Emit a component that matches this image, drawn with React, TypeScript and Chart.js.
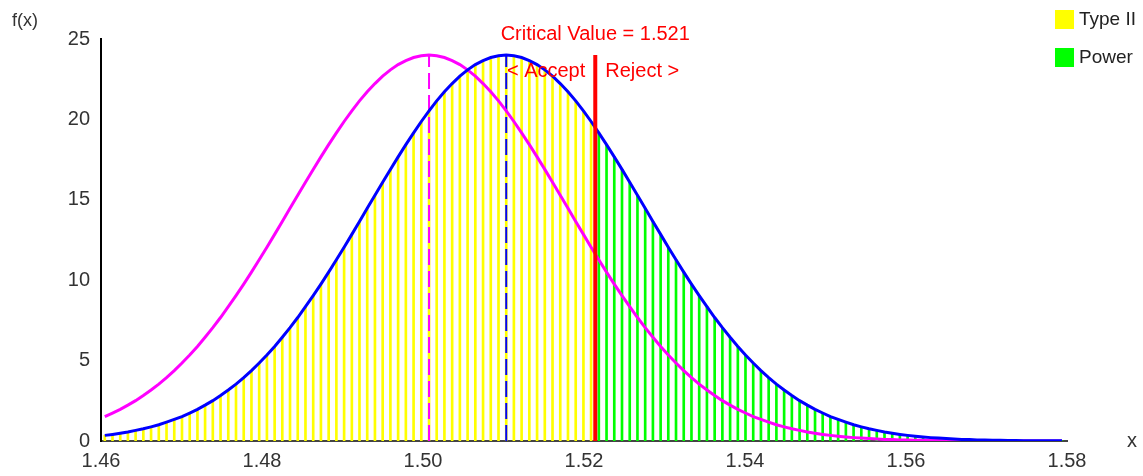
import React, { useEffect, useRef } from "react";
import { Chart, registerables } from "chart.js";

Chart.register(...registerables);

// x positions of the sampled density (one vertical bar per sample)
const xValues = [
  1.46047, 1.46143, 1.46239, 1.46334, 1.4643, 1.46526, 1.46622, 1.46718, 1.46814, 1.4691,
  1.47006, 1.47102, 1.47198, 1.47293, 1.47389, 1.47485, 1.47581, 1.47677, 1.47773, 1.47869,
  1.47965, 1.48061, 1.48157, 1.48252, 1.48348, 1.48444, 1.4854, 1.48636, 1.48732, 1.48828,
  1.48924, 1.4902, 1.49116, 1.49211, 1.49307, 1.49403, 1.49499, 1.49595, 1.49691, 1.49787,
  1.49883, 1.49979,
  1.50075, 1.5017, 1.50266, 1.50362, 1.50458, 1.50554, 1.5065, 1.50746, 1.50842, 1.50938,
  1.51034, 1.51129, 1.51225, 1.51321, 1.51417, 1.51513, 1.51609, 1.51705, 1.51801, 1.51897,
  1.51993, 1.52088, 1.52184, 1.5228, 1.52376, 1.52472, 1.52568, 1.52664, 1.5276, 1.52856,
  1.52952, 1.53047, 1.53143, 1.53239, 1.53335, 1.53431, 1.53527, 1.53623, 1.53719, 1.53815,
  1.53911, 1.54006, 1.54102, 1.54198, 1.54294, 1.5439, 1.54486, 1.54582, 1.54678, 1.54774,
  1.5487, 1.54965, 1.55061, 1.55157, 1.55253, 1.55349, 1.55445, 1.55541, 1.55637, 1.55733,
  1.55829, 1.55924, 1.5602, 1.56116, 1.56212, 1.56308, 1.56404, 1.565, 1.56596, 1.56692,
  1.56788, 1.56883, 1.56979, 1.57075, 1.57171, 1.57267, 1.57363, 1.57459, 1.57555, 1.57651,
  1.57747, 1.57842, 1.57938,
];

// magenta curve (null hypothesis density)
const nullDensity = [
  1.52, 1.74, 1.97, 2.23, 2.51, 2.83, 3.17, 3.54, 3.94, 4.38,
  4.85, 5.35, 5.88, 6.45, 7.05, 7.68, 8.35, 9.04, 9.76, 10.5,
  11.27, 12.05, 12.85, 13.65, 14.47, 15.28, 16.09, 16.89, 17.67, 18.43,
  19.16, 19.87, 20.53, 21.15, 21.72, 22.23, 22.69, 23.08, 23.41, 23.66,
  23.85, 23.96,
  24.0,
  23.96, 23.85, 23.66, 23.41, 23.08, 22.69, 22.23, 21.72, 21.15, 20.53,
  19.87, 19.16, 18.43, 17.67, 16.89, 16.09, 15.28, 14.47, 13.65, 12.85,
  12.05, 11.27, 10.5, 9.76, 9.04, 8.35, 7.68, 7.05, 6.45, 5.88,
  5.35, 4.85, 4.38, 3.94, 3.54, 3.17, 2.83, 2.51, 2.23, 1.97,
  1.74, 1.52, 1.34, 1.17, 1.01, 0.88, 0.76, 0.66, 0.56, 0.48,
  0.41, 0.35, 0.3, 0.25, 0.21, 0.18, 0.15, 0.13, 0.1, 0.09,
  0.07, 0.06, 0.05, 0.04, 0.03, 0.03, 0.02, 0.02, 0.01, 0.01,
  0.01, 0.01, 0.01, 0.01, 0.01, 0, 0, 0, 0, 0, 0, 0,
];

// blue curve (true-mean density), also the bar heights
const altDensity = [
  0.35, 0.41, 0.48, 0.56, 0.66, 0.76, 0.88, 1.01, 1.17, 1.34,
  1.52, 1.74, 1.97, 2.23, 2.51, 2.83, 3.17, 3.54, 3.94, 4.38,
  4.85, 5.35, 5.88, 6.45, 7.05, 7.68, 8.35, 9.04, 9.76, 10.5,
  11.27, 12.05, 12.85, 13.65, 14.47, 15.28, 16.09, 16.89, 17.67, 18.43,
  19.16, 19.87, 20.53, 21.15, 21.72, 22.23, 22.69, 23.08, 23.41, 23.66,
  23.85, 23.96,
  24.0,
  23.96, 23.85, 23.66, 23.41, 23.08, 22.69, 22.23, 21.72, 21.15, 20.53,
  19.87, 19.16, 18.43, 17.67, 16.89, 16.09, 15.28, 14.47, 13.65, 12.85,
  12.05, 11.27, 10.5, 9.76, 9.04, 8.35, 7.68, 7.05, 6.45, 5.88,
  5.35, 4.85, 4.38, 3.94, 3.54, 3.17, 2.83, 2.51, 2.23, 1.97,
  1.74, 1.52, 1.34, 1.17, 1.01, 0.88, 0.76, 0.66, 0.56, 0.48,
  0.41, 0.35, 0.3, 0.25, 0.21, 0.18, 0.15, 0.13, 0.1, 0.09,
  0.07, 0.06, 0.05, 0.04, 0.03, 0.03, 0.02, 0.02, 0.01, 0.01,
  0.01, 0.01,
];

const nullMean = 1.50075;
const altMean = 1.51034;
const peakHeight = 24;
const criticalLine = 1.5214;
const criticalLabel = "Critical Value = 1.521";
const acceptLabel = "< Accept";
const rejectLabel = "Reject >";
const xTickValues = [1.46, 1.48, 1.5, 1.52, 1.54, 1.56, 1.58];
const yTickValues = [0, 5, 10, 15, 20, 25];
const legendLabels = ["Type II", "Power"];
const legendColors = ["#ffff00", "#00ff00"];
const yAxisTitle = "f(x)";
const xAxisTitle = "x";

const FONT = '"Liberation Sans", Arial, sans-serif';

const annotationPlugin = {
  id: "annotations",
  afterDraw(chart: any) {
    const { ctx, scales } = chart;
    const cx = scales.x.getPixelForValue(criticalLine);
    ctx.save();
    ctx.textBaseline = "middle";
    ctx.fillStyle = "#ff0000";
    ctx.font = `20px ${FONT}`;
    ctx.textAlign = "center";
    ctx.fillText(criticalLabel, cx, 34);
    ctx.textAlign = "right";
    ctx.fillText(acceptLabel, cx - 10, 71);
    ctx.textAlign = "left";
    ctx.fillText(rejectLabel, cx + 10, 71);

    // legend
    ctx.font = `19px ${FONT}`;
    legendLabels.forEach((label, i) => {
      const top = 10 + i * 38;
      ctx.fillStyle = legendColors[i];
      ctx.fillRect(1055, top, 19, 19);
      ctx.fillStyle = "#222";
      ctx.textAlign = "left";
      ctx.fillText(label, 1079, top + 10);
    });

    // axis titles
    ctx.fillStyle = "#333";
    ctx.font = `18px ${FONT}`;
    ctx.textAlign = "left";
    ctx.fillText(yAxisTitle, 12, 21);
    ctx.font = `20px ${FONT}`;
    ctx.fillText(xAxisTitle, 1127, 441);
    ctx.restore();
  },
};

export default function App() {
  const canvasRef = useRef<HTMLCanvasElement | null>(null);

  useEffect(() => {
    if (!canvasRef.current) return;
    const barData = xValues.map((x, i) => ({ x, y: altDensity[i] }));
    const barColors = xValues.map((x) => (x < criticalLine ? "#ffff00" : "#00ff00"));
    const chart = new Chart(canvasRef.current, {
      type: "bar",
      data: {
        datasets: [
          {
            type: "line",
            label: "critical",
            data: [
              { x: criticalLine, y: 0 },
              { x: criticalLine, y: peakHeight },
            ],
            borderColor: "#ff0000",
            borderWidth: 4,
            pointRadius: 0,
            order: 0,
          },
          {
            type: "line",
            label: "alt",
            data: xValues.map((x, i) => ({ x, y: altDensity[i] })),
            borderColor: "#0000ff",
            borderWidth: 3,
            pointRadius: 0,
            tension: 0,
            order: 1,
          },
          {
            type: "line",
            label: "null",
            data: xValues.map((x, i) => ({ x, y: nullDensity[i] })),
            borderColor: "#ff00ff",
            borderWidth: 3,
            pointRadius: 0,
            tension: 0,
            order: 2,
          },
          {
            type: "line",
            label: "altMean",
            data: [
              { x: altMean, y: 0 },
              { x: altMean, y: peakHeight },
            ],
            borderColor: "#0000ff",
            borderWidth: 2,
            borderDash: [16, 6],
            pointRadius: 0,
            order: 3,
          },
          {
            type: "line",
            label: "nullMean",
            data: [
              { x: nullMean, y: 0 },
              { x: nullMean, y: peakHeight },
            ],
            borderColor: "#ff00ff",
            borderWidth: 2,
            borderDash: [16, 6],
            pointRadius: 0,
            order: 4,
          },
          {
            type: "bar",
            label: "bars",
            data: barData,
            backgroundColor: barColors,
            borderWidth: 0,
            barThickness: 2,
            order: 5,
          },
        ],
      } as any,
      options: {
        animation: false,
        responsive: false,
        devicePixelRatio: 1,
        layout: { padding: { top: 39, right: 76, left: 0, bottom: 0 } },
        plugins: {
          legend: { display: false },
          tooltip: { enabled: false },
        },
        scales: {
          x: {
            type: "linear",
            min: 1.46,
            max: 1.58,
            offset: false,
            grid: { display: false, drawTicks: false },
            border: { display: true, color: "#444", width: 2, dash: [5, 3] },
            afterBuildTicks: (s: any) => {
              s.ticks = xTickValues.map((v) => ({ value: v }));
            },
            afterFit: (s: any) => {
              s.height = 35;
            },
            ticks: {
              padding: 8,
              color: "#333",
              font: { family: FONT, size: 20 },
              maxRotation: 0,
              autoSkip: false,
              callback: (v: any) => Number(v).toFixed(2),
            },
          },
          y: {
            type: "linear",
            min: 0,
            max: 25,
            grid: { display: false, drawTicks: false },
            border: { display: true, color: "#000", width: 2 },
            afterBuildTicks: (s: any) => {
              s.ticks = yTickValues.map((v) => ({ value: v }));
            },
            afterFit: (s: any) => {
              s.width = 101;
            },
            ticks: {
              padding: 11,
              color: "#333",
              font: { family: FONT, size: 20 },
              autoSkip: false,
              callback: (v: any) => String(v),
            },
          },
        },
      } as any,
      plugins: [annotationPlugin],
    });
    return () => chart.destroy();
  }, []);

  return (
    <div style={{ position: "absolute", left: 0, top: 0, width: 1143, height: 476, background: "#fff" }}>
      <canvas ref={canvasRef} width={1143} height={476} style={{ display: "block" }} />
    </div>
  );
}
